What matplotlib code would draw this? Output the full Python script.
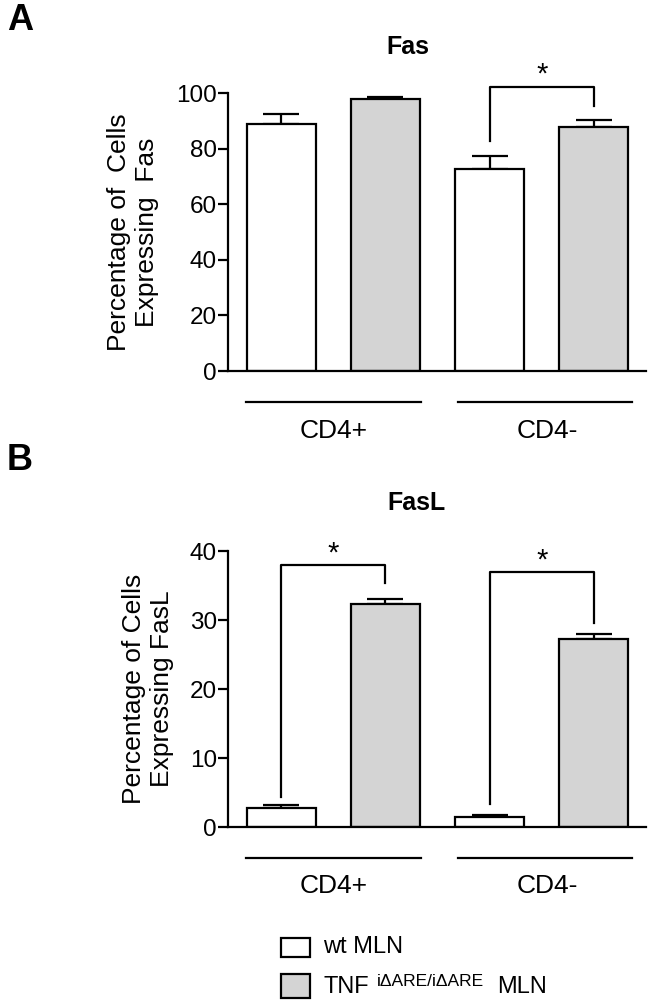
import matplotlib
matplotlib.use("Agg")
import matplotlib.pyplot as plt
from matplotlib.patches import Rectangle
import numpy as np

plt.rcParams['font.family'] = ['Liberation Sans', 'DejaVu Sans']

# data
groups = ['CD4+', 'CD4-']
legend_labels = ['wt MLN', 'TNF', 'i\u0394ARE/i\u0394ARE', 'MLN']

fas_mean = [88.9, 97.8, 72.5, 87.7]
fas_err = [3.6, 0.7, 4.7, 2.5]
fasl_mean = [2.75, 32.35, 1.45, 27.3]
fasl_err = [0.5, 0.75, 0.3, 0.6]

# significance brackets: (left bar, right bar, top, left leg end, right leg end, star y)
fas_sig = [(2, 3, 102.0, 82.8, 95.4, 106.5)]
fasl_sig = [(0, 1, 38.0, 4.3, 35.4, 39.6), (2, 3, 37.0, 3.4, 29.5, 38.6)]

colors = ['white', '#d4d4d4', 'white', '#d4d4d4']
x = np.arange(4)
W, H = 653, 1005
fig = plt.figure(figsize=(W / 100, H / 100), dpi=100)


def panel(bottom_px, top_px, means, errs, sigs, ymax, ystep, ylabel, title, title_x, title_y, lab_x):
    ax = fig.add_axes([228 / W, 1 - bottom_px / H, 418 / W, (bottom_px - top_px) / H])
    ax.bar(x, means, width=0.66, color=colors, edgecolor='black', linewidth=1.6, zorder=2)
    ax.errorbar(x, means, yerr=[np.zeros(4), errs], fmt='none', ecolor='black',
                elinewidth=1.6, capsize=13, capthick=1.6, zorder=1)
    ax.set_xlim(-0.51, 3.5)
    ax.set_ylim(0, ymax)
    ax.set_yticks(np.arange(0, ymax + 1, ystep))
    ax.set_xticks([])
    for s in ['top', 'right']:
        ax.spines[s].set_visible(False)
    ax.spines['left'].set_linewidth(1.6)
    ax.spines['bottom'].set_linewidth(1.6)
    ax.tick_params(axis='y', labelsize=17.5, length=7, width=1.6, pad=1)
    ax.set_ylabel(ylabel, fontsize=19, linespacing=1.2, ha='center')
    ax.yaxis.set_label_coords(lab_x, 0.5)
    tr = ax.get_xaxis_transform()
    ax.text(title_x, title_y, title, transform=tr, ha='center', va='center',
            fontsize=18, fontweight='bold')
    # group lines and labels under the axis
    for (a, b), xc, g in zip([(-0.34, 1.34), (1.70, 3.37)], [0.5, 2.55], groups):
        ax.plot([a, b], [-0.112, -0.112], color='black', lw=1.6, transform=tr, clip_on=False)
        ax.text(xc, -0.215, g, transform=tr, ha='center', va='center', fontsize=19)
    for i, j, top, l_end, r_end, sy in sigs:
        ax.plot([x[i], x[i], x[j], x[j]], [l_end, top, top, r_end], color='black',
                lw=1.6, clip_on=False)
        ax.text((x[i] + x[j]) / 2, sy, '*', ha='center', va='center', fontsize=21,
                clip_on=False)
    return ax


panel(371, 93, fas_mean, fas_err, fas_sig, 100, 20,
      'Percentage of  Cells\nExpressing  Fas', 'Fas', 1.22, 1.165, -0.165)
panel(827, 551, fasl_mean, fasl_err, fasl_sig, 40, 10,
      'Percentage of Cells\nExpressing FasL', 'FasL', 1.30, 1.174, -0.129)

fig.text(20 / W, 1 - 21 / H, 'A', fontsize=26, fontweight='bold', ha='center', va='center')
fig.text(20 / W, 1 - 461 / H, 'B', fontsize=26, fontweight='bold', ha='center', va='center')

# legend
fig.patches.append(Rectangle((281 / W, 1 - 957 / H), 29 / W, 19 / H, transform=fig.transFigure,
                             facecolor=colors[0], edgecolor='black', lw=1.6))
fig.patches.append(Rectangle((281 / W, 1 - 998 / H), 29 / W, 24 / H, transform=fig.transFigure,
                             facecolor=colors[1], edgecolor='black', lw=1.6))
fig.text(323 / W, 1 - 947 / H, legend_labels[0], fontsize=17, va='center')
fig.text(323 / W, 1 - 987 / H, legend_labels[1], fontsize=17, va='center')
fig.text(377 / W, 1 - 981 / H, legend_labels[2], fontsize=12.5, va='center')
fig.text(497 / W, 1 - 987 / H, legend_labels[3], fontsize=17, va='center')

fig.savefig('out.png', dpi=100)
